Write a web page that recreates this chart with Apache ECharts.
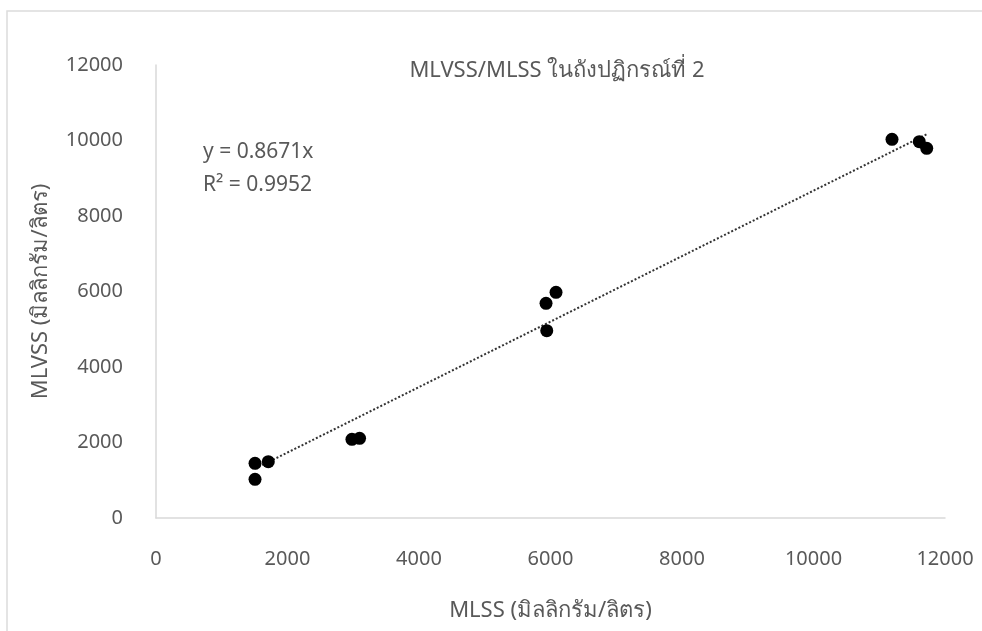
<!DOCTYPE html>
<html>
<head>
<meta charset="utf-8">
<style>
html,body{margin:0;padding:0;background:#fff;}
#chart{width:982px;height:631px;}
</style>
<script src="https://cdn.jsdelivr.net/npm/echarts@6/dist/echarts.min.js"></script>
</head>
<body>
<div id="chart"></div>
<script>
// Data
var mlss   = [1506, 1506, 1708, 2980, 3096, 5932, 5943, 6084, 11194, 11609, 11722];
var mlvss  = [1449, 1025, 1491, 2085, 2111, 5687, 4962, 5979, 10032, 9968, 9793];
var slope = 0.8671;
var rSquared = '0.9952';
var xTicks = [0, 2000, 4000, 6000, 8000, 10000, 12000];
var yTicks = [0, 2000, 4000, 6000, 8000, 10000, 12000];
var titleText = 'MLVSS/MLSS ในถังปฏิกรณ์ที่ 2';
var xName = 'MLSS (มิลลิกรัม/ลิตร)';
var yName = 'MLVSS (มิลลิกรัม/ลิตร)';

var points = mlss.map(function (x, i) { return [x, mlvss[i]]; });
var xMin = Math.min.apply(null, mlss), xMax = Math.max.apply(null, mlss);
var trend = [[xMin, slope * xMin], [xMax, slope * xMax]];

var FONT = '"Noto Sans", "Open Sans", sans-serif';
var GRAY = '#595959';
function plain(v) { return String(v); }

var chart = echarts.init(document.getElementById('chart'));
chart.setOption({
  backgroundColor: '#fff',
  animation: false,
  title: {
    text: titleText,
    left: 552, top: 55, textAlign: 'center',
    textStyle: { fontFamily: FONT, fontSize: 22, fontWeight: 'normal', color: GRAY }
  },
  grid: { left: 156, right: 37, top: 65, bottom: 113 },
  xAxis: {
    type: 'value', min: xTicks[0], max: xTicks[xTicks.length - 1], interval: 2000,
    name: xName, nameLocation: 'middle', nameGap: 82,
    nameTextStyle: { fontFamily: FONT, fontSize: 22, color: GRAY },
    axisLine: { show: true, lineStyle: { color: '#d9d9d9', width: 1.5 } },
    axisTick: { show: false },
    splitLine: { show: false },
    axisLabel: { fontFamily: FONT, fontSize: 20, color: GRAY, margin: 31, formatter: plain }
  },
  yAxis: {
    type: 'value', min: yTicks[0], max: yTicks[yTicks.length - 1], interval: 2000,
    name: yName, nameLocation: 'middle', nameGap: 104,
    nameTextStyle: { fontFamily: FONT, fontSize: 22, color: GRAY },
    axisLine: { show: true, lineStyle: { color: '#d9d9d9', width: 1.5 } },
    axisTick: { show: false },
    splitLine: { show: false },
    axisLabel: { fontFamily: FONT, fontSize: 20, color: GRAY, margin: 33, formatter: plain }
  },
  series: [
    {
      type: 'line', data: trend, symbol: 'none', silent: true,
      lineStyle: { color: '#333', width: 2, type: [2, 2] }, z: 1
    },
    {
      type: 'scatter', data: points, symbol: 'circle', symbolSize: 13,
      itemStyle: { color: '#000', opacity: 1 }, z: 2
    }
  ],
  graphic: [
    { type: 'rect', shape: { x: 7, y: 11, width: 1000, height: 700 },
      style: { fill: 'none', stroke: '#dcdcdc', lineWidth: 1.5 }, z: -1 },
    { type: 'text', left: 203, top: 142,
      style: { text: 'y = ' + slope + 'x', font: '21px ' + FONT, fill: GRAY } },
    { type: 'text', left: 203, top: 175,
      style: { text: 'R² = ' + rSquared, font: '21px ' + FONT, fill: GRAY } }
  ]
});
</script>
</body>
</html>
